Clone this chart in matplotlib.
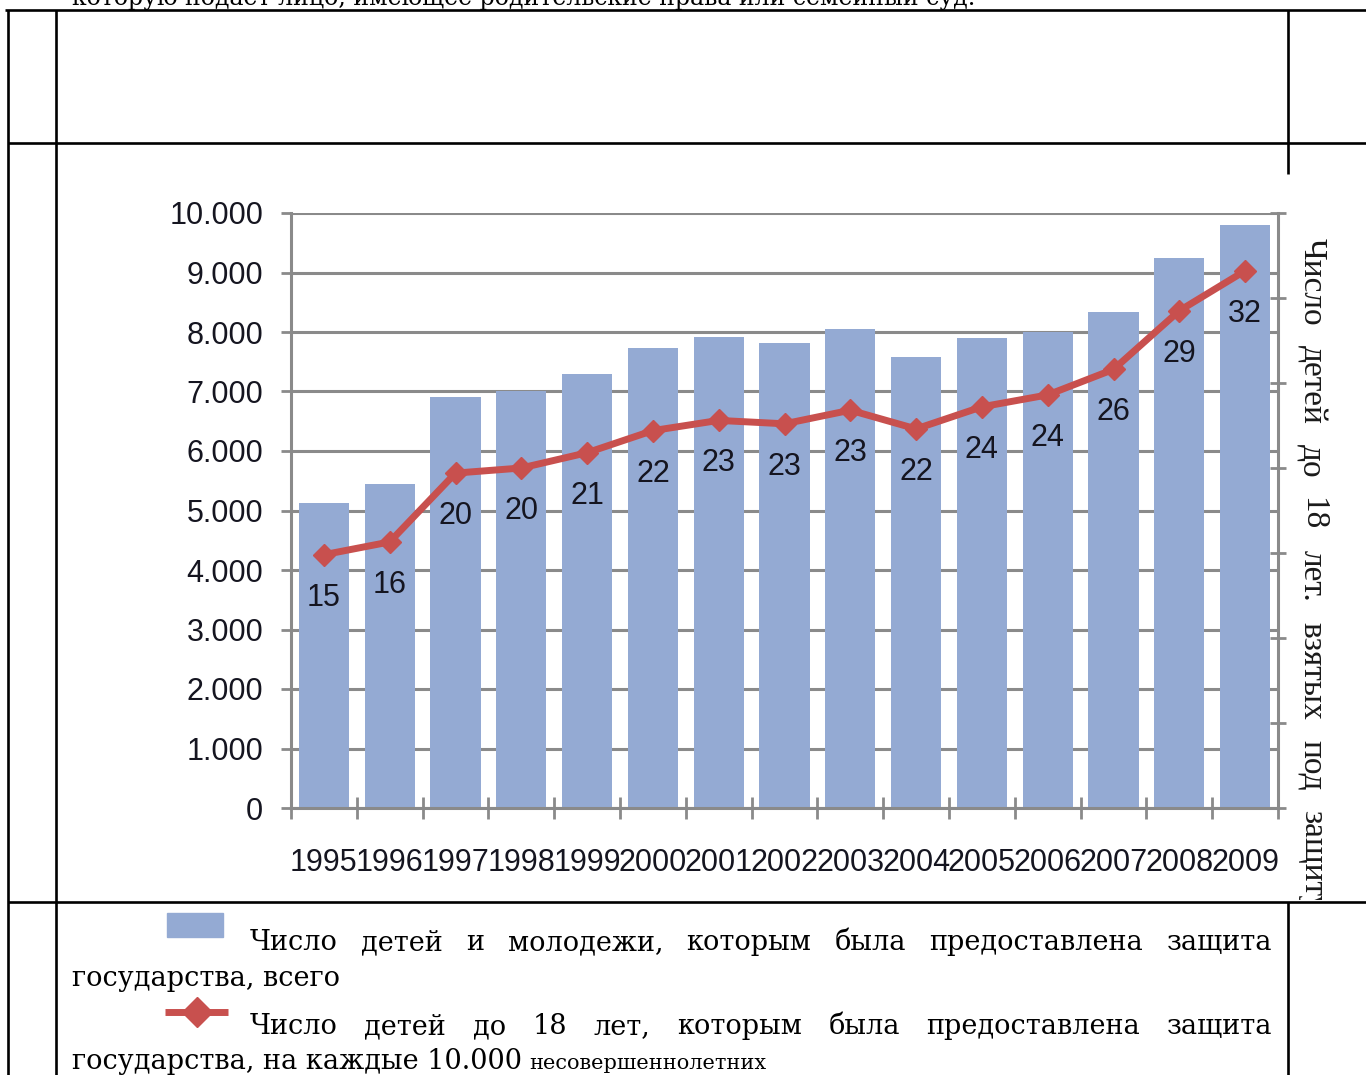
import matplotlib
matplotlib.use("Agg")
from matplotlib import pyplot as plt
from matplotlib.patches import Rectangle
from matplotlib.transforms import Bbox
import numpy as np

# --- data ---
years = ["1995", "1996", "1997", "1998", "1999", "2000", "2001", "2002",
         "2003", "2004", "2005", "2006", "2007", "2008", "2009"]
total = [5130, 5445, 6905, 7010, 7295, 7725, 7920, 7810,
         8050, 7575, 7895, 8005, 8330, 9240, 9800]
per10k = [14.9, 15.65, 19.7, 20.0, 20.9, 22.2, 22.8, 22.6,
          23.4, 22.3, 23.6, 24.3, 25.8, 29.25, 31.6]
per10k_labels = ["15", "16", "20", "20", "21", "22", "23", "23",
                 "23", "22", "24", "24", "26", "29", "32"]
left_ticks = list(range(0, 10001, 1000))
right_ticks = list(range(0, 36, 5))

top_line = "которую подает лицо, имеющее родительские права или семейный суд."
side_label = "Число детей до 18 лет. взятых под защиту"
legend_bar = ["Число детей и молодежи, которым была предоставлена защита",
              "государства, всего"]
legend_line = ["Число детей до 18 лет, которым была предоставлена защита",
               "государства, на каждые 10.000"]
legend_small = "несовершеннолетних"

BAR = "#94aad3"
RED = "#c8504e"
GRID = "#8a8a8a"
INK = "#151520"
SANS = ["Liberation Sans", "DejaVu Sans"]
SERIF = ["DejaVu Serif"]
BODY = 19.5

W, H = 1366, 1075
fig = plt.figure(figsize=(W / 100, H / 100), dpi=100)
fig.patch.set_facecolor("white")

# overlay in pixel coordinates for the document page around the chart
page = fig.add_axes([0, 0, 1, 1])
page.set_xlim(0, W)
page.set_ylim(H, 0)
page.axis("off")

lw_tab = 1.9
for y, x0, x1 in [(10, 5, W), (143, 8, W), (902, 8, W)]:
    page.plot([x0, x1], [y, y], color="black", lw=lw_tab, solid_capstyle="butt")
for x, y0, y1 in [(8, 10, H), (56, 10, H), (1288, 10, 174), (1288, 902, H)]:
    page.plot([x, x], [y0, y1], color="black", lw=lw_tab, solid_capstyle="butt")

# last line of the previous paragraph, cut by the top edge as in the scan
page.text(72, 5, top_line, family=SERIF, fontsize=17, va="baseline", ha="left")

renderer = fig.canvas.get_renderer()


def justify(text, x0, x1, y, size):
    words = text.split()
    objs = [page.text(x0, y, w, family=SERIF, fontsize=size, va="baseline",
                      ha="left") for w in words]
    widths = [o.get_window_extent(renderer).width for o in objs]
    gap = (x1 - x0 - sum(widths)) / (len(words) - 1)
    pos = x0
    for o, w in zip(objs, widths):
        o.set_x(pos)
        pos += w + gap


justify(legend_bar[0], 250, 1272, 950, BODY)
page.text(72, 986, legend_bar[1], family=SERIF, fontsize=BODY, va="baseline")
justify(legend_line[0], 250, 1272, 1034, BODY)
t4 = page.text(72, 1069, legend_line[1], family=SERIF, fontsize=BODY, va="baseline")
w4 = t4.get_window_extent(renderer).width
page.text(72 + w4 + 7, 1069, legend_small, family=SERIF, fontsize=15, va="baseline")

page.add_patch(Rectangle((167, 913), 56, 24, color=BAR))
page.plot([165, 228], [1012, 1012], color=RED, lw=5, solid_capstyle="butt")
page.plot([197], [1012], marker="D", ms=15, color=RED)

# rotated axis title on the right, spread out and cut at the chart's edge
clip = Bbox.from_extents(1290, H - 900, W, H - 175)
words = side_label.split()
objs = []
for w in words:
    t = page.text(1312, 238, w, rotation=-90, ha="center", va="top",
                  family=["Liberation Serif"], fontsize=24, color="#1a1a1a")
    t.set_clip_on(True)
    t.set_clip_box(clip)
    objs.append(t)
lens = [o.get_window_extent(renderer).height for o in objs]
gap = (912 - 238 - sum(lens)) / (len(words) - 1)
pos = 238
for o, ln in zip(objs, lens):
    o.set_y(pos)
    pos += ln + gap

# --- chart ---
ax = fig.add_axes([291 / W, 1 - 808 / H, (1278 - 291) / W, (808 - 213) / H])
x = np.arange(len(years))
ax.bar(x, total, width=0.76, color=BAR, zorder=2)
ax.set_xlim(-0.5, len(years) - 0.5)
ax.set_ylim(0, 10000)
ax.set_yticks(left_ticks)
ax.set_yticklabels([f"{v:,}".replace(",", ".") for v in left_ticks],
                   family=SANS, fontsize=22, color=INK)
ax.set_xticks(x)
ax.set_xticklabels(years, family=SANS, fontsize=22, color=INK)
ax.set_xticks(np.arange(-0.5, len(years), 1), minor=True)
ax.set_axisbelow(True)
ax.yaxis.grid(True, color=GRID, lw=2.2)
ax.tick_params(axis="x", which="major", length=0, pad=29)
ax.tick_params(axis="x", which="minor", length=16, width=2, direction="inout", color=GRID)
ax.tick_params(axis="y", length=7, width=2, color=GRID, pad=13)
for s in ["left", "bottom"]:
    ax.spines[s].set_color(GRID)
    ax.spines[s].set_linewidth(2.2)
ax.spines["top"].set_visible(False)
ax.spines["right"].set_visible(False)

ax2 = ax.twinx()
ax2.set_ylim(0, 35)
ax2.set_yticks(right_ticks)
ax2.set_yticklabels([])
ax2.tick_params(axis="y", length=12, width=2, direction="inout", color=GRID)
for s in ["left", "bottom", "top"]:
    ax2.spines[s].set_visible(False)
ax2.spines["right"].set_color(GRID)
ax2.spines["right"].set_linewidth(2.2)
ax2.plot(x, per10k, color=RED, lw=5, marker="D", ms=11, zorder=3)
for xi, yi, lab in zip(x, per10k, per10k_labels):
    ax2.annotate(lab, (xi, yi), xytext=(0, -31), textcoords="offset points",
                 ha="center", va="center", family=SANS, fontsize=22, color=INK)

fig.savefig("out.png", dpi=100)
